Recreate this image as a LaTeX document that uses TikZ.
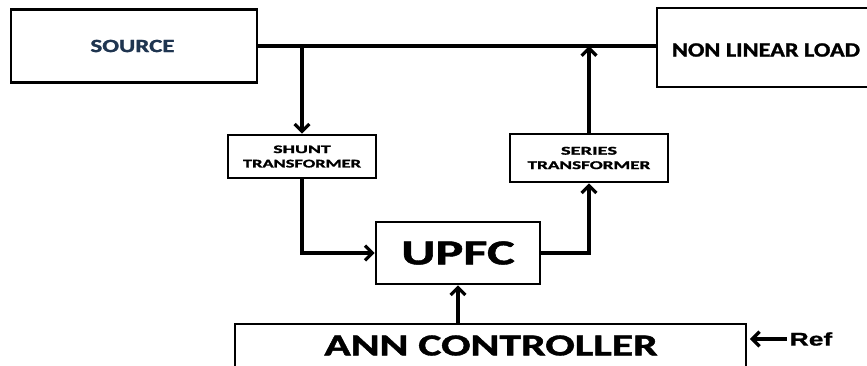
\documentclass[tikz,border=0pt]{standalone}
\usepackage{fontspec}
\usepackage{graphicx}
\setmainfont{Carlito}[BoldFeatures={FakeBold=1.2}]
\newfontfamily\reffont{Liberation Sans}[BoldFeatures={FakeBold=0.8}]
\usetikzlibrary{arrows.meta}
\definecolor{srcnavy}{HTML}{1F3550}
\newcommand{\fit}[3]{\resizebox{#1pt}{#2pt}{\bfseries #3}}
\tikzset{
  blk/.style={draw=black, line width=1.9pt, fill=white, inner sep=0pt, align=center},
  conn/.style={line width=2.5pt},
  arr/.style={conn, -{Straight Barb[length=5.5pt, width=11pt]}},
  lbl/.style={inner sep=0pt, align=center, font=\fontsize{8}{10.8}\selectfont}
}
\begin{document}
\begin{tikzpicture}[x=0.75pt, y=-0.75pt]
\useasboundingbox (0,0) rectangle (867,365);
\clip (0,0) rectangle (867,365);
% boxes
\node[blk, minimum width=246*0.75pt, minimum height=73*0.75pt] (src) at (134,46) {};
\node[lbl, text=srcnavy] (srctext) at (132.5,46) {\fit{63}{9.2}{SOURCE}};
\node[blk, minimum width=220*0.75pt, minimum height=79*0.75pt] (nll) at (767,47.5) {};
\node[lbl] (nlltext) at (766,50) {\fit{141}{10}{NON LINEAR LOAD}};
\node[blk, lbl, minimum width=148*0.75pt, minimum height=43*0.75pt] (shunt) at (302,156.5)
  {\fit{43}{5.7}{SHUNT}\\\fit{88.5}{5.8}{TRANSFORMER}};
\node[blk, lbl, minimum width=158*0.75pt, minimum height=48*0.75pt] (series) at (589,158)
  {\fit{42}{5.9}{SERIES}\\\fit{92}{5.9}{TRANSFORMER}};
\node[blk, minimum width=164*0.75pt, minimum height=62*0.75pt] (upfc) at (458,253)
  {\fit{85}{17.3}{UPFC}};
\node[blk, minimum width=511*0.75pt, minimum height=80*0.75pt] (ann) at (490.5,364) {};
\node[lbl] (anntext) at (491,345.5) {\fit{250}{15}{ANN CONTROLLER}};
\node[lbl] (reftext) at (811,339) {\resizebox{32pt}{10pt}{\reffont\bfseries Ref}};
% connectors
\coordinate (busL) at (src.east);
\draw[conn] (busL) -- (busL -| nll.west);
\draw[arr] (shunt.north |- busL) -- (shunt.north);
\draw[arr] (series.north) -- (series.north |- busL);
\draw[arr] (shunt.south) -- (shunt.south |- upfc.west) -- (upfc.west);
\draw[arr] (upfc.east) -- (series.south |- upfc.east) -- (series.south);
\draw[arr] (upfc.south |- ann.north) -- (upfc.south);
\draw[arr, shorten >=2pt] ([xshift=-2pt]reftext.west) -- (ann.east |- reftext.west);
\end{tikzpicture}
\end{document}
